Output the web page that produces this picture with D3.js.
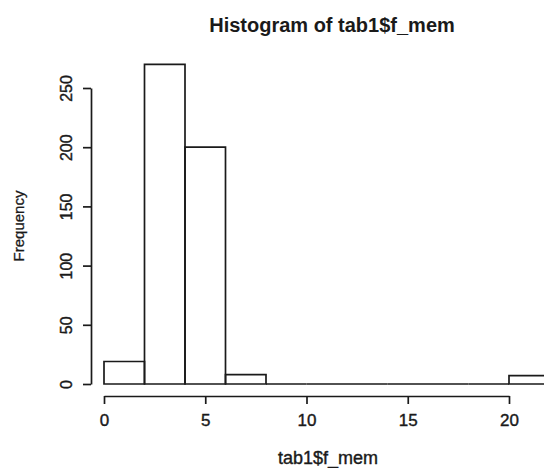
<!DOCTYPE html>
<html>
<head>
<meta charset="utf-8">
<script src="https://cdn.jsdelivr.net/npm/d3@7/dist/d3.min.js"></script>
<style>
  body { margin: 0; background: #fff; }
  text { font-family: "Liberation Sans", Arial, sans-serif; fill: #1a1a1a; }
</style>
</head>
<body>
<div class="canvas"></div>
<script>
// histogram bins (width 2) and their counts
const binStarts = [0, 2, 4, 6, 8, 10, 12, 14, 16, 18, 20];
const counts = [19, 270, 200, 8, 0, 0, 0, 0, 0, 0, 7];
const binWidth = 2;
const xTicks = [0, 5, 10, 15, 20];
const yTicks = [0, 50, 100, 150, 200, 250];

const svg = d3.select('.canvas')
  .append('svg')
    .attr('width', 544)
    .attr('height', 468);

const x = d3.scaleLinear().domain([0, 20]).range([104, 509]);
const y = d3.scaleLinear().domain([0, 250]).range([384, 88]);

// bars as closed paths so the empty bins still show up as a flat line
svg.selectAll('path.bar')
  .data(binStarts)
  .enter()
  .append('path')
    .attr('class', 'bar')
    .attr('d', (d, i) => {
      const x0 = x(d), x1 = x(d + binWidth);
      const y0 = y(0), y1 = y(counts[i]);
      return `M${x0},${y0}V${y1}H${x1}V${y0}Z`;
    })
    .attr('fill', 'none')
    .attr('stroke', '#1a1a1a')
    .attr('stroke-width', 1.7);

// x axis
const xAxis = d3.axisBottom(x)
  .tickValues(xTicks)
  .tickSize(8)
  .tickSizeOuter(0)
  .tickPadding(10);

const xAxisGroup = svg.append('g')
  .attr('transform', 'translate(0, 396)')
  .call(xAxis);

xAxisGroup.selectAll('path, line')
  .attr('stroke', '#1a1a1a')
  .attr('stroke-width', 1.7);
xAxisGroup.selectAll('text')
  .style('font-family', '"Liberation Sans", Arial, sans-serif')
  .style('font-size', '17px')
  .attr('fill', '#1a1a1a')
  .attr('stroke', '#1a1a1a')
  .attr('stroke-width', 0.4);

// y axis
const yAxis = d3.axisLeft(y)
  .tickValues(yTicks)
  .tickSize(8)
  .tickSizeOuter(0)
  .tickPadding(0);

const yAxisGroup = svg.append('g')
  .attr('transform', 'translate(91, 0)')
  .call(yAxis);

yAxisGroup.selectAll('path, line')
  .attr('stroke', '#1a1a1a')
  .attr('stroke-width', 1.7);
yAxisGroup.selectAll('text')
  .style('font-family', '"Liberation Sans", Arial, sans-serif')
  .style('font-size', '16px')
  .attr('fill', '#1a1a1a')
  .attr('stroke', '#1a1a1a')
  .attr('stroke-width', 0.4)
  .attr('text-anchor', 'middle')
  .attr('dy', null)
  .attr('x', null)
  .attr('transform', 'translate(-24, 0) rotate(-90) translate(0, 5)');

// title
svg.append('text')
  .attr('x', 332)
  .attr('y', 32)
  .attr('text-anchor', 'middle')
  .style('font-size', '20px')
  .style('font-weight', 'bold')
  .text('Histogram of tab1$f_mem');

// x label
svg.append('text')
  .attr('x', 328)
  .attr('y', 464)
  .attr('text-anchor', 'middle')
  .style('font-size', '18px')
  .attr('stroke', '#1a1a1a')
  .attr('stroke-width', 0.4)
  .text('tab1$f_mem');

// y label
svg.append('text')
  .attr('transform', 'translate(24, 226) rotate(-90)')
  .attr('text-anchor', 'middle')
  .style('font-size', '15px')
  .attr('stroke', '#1a1a1a')
  .attr('stroke-width', 0.3)
  .text('Frequency');
</script>
</body>
</html>
